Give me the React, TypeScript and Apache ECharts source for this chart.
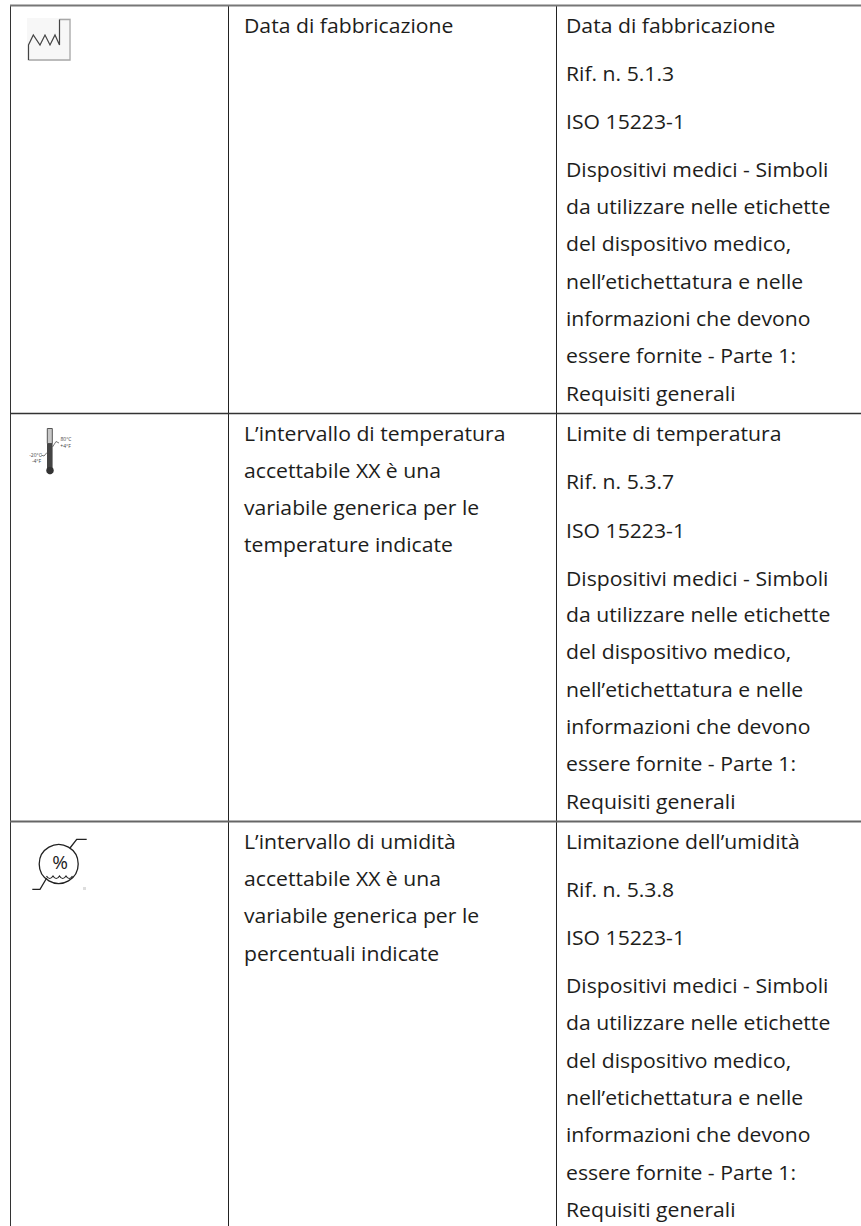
import React, { useEffect, useRef } from "react";
import * as echarts from "echarts";

const col2Row1 = ["Data di fabbricazione"];
const col2Row2 = ["L’intervallo di temperatura", "accettabile XX è una", "variabile generica per le", "temperature indicate"];
const col2Row3 = ["L’intervallo di umidità", "accettabile XX è una", "variabile generica per le", "percentuali indicate"];
const standardText = ["ISO 15223-1", "Dispositivi medici - Simboli", "da utilizzare nelle etichette", "del dispositivo medico,", "nell’etichettatura e nelle", "informazioni che devono", "essere fornite - Parte 1:", "Requisiti generali"];
const col3Row1 = ["Data di fabbricazione", "Rif. n. 5.1.3", ...standardText];
const col3Row2 = ["Limite di temperatura", "Rif. n. 5.3.7", ...standardText];
const col3Row3 = ["Limitazione dell’umidità", "Rif. n. 5.3.8", ...standardText];
const col2Base1 = [33];
const col2Base2 = [441, 478, 515, 552];
const col2Base3 = [849, 886, 923, 961];
const col3Base1 = [33, 81, 129, 177, 214, 251, 289, 326, 363, 401];
const col3Base2 = [441, 489, 538, 586, 622, 659, 697, 734, 771, 809];
const col3Base3 = [849, 897, 945, 993, 1030, 1068, 1105, 1142, 1180, 1217];
const thermoRight = ["80°C", "+4°F"];
const thermoLeft = ["-20°C", "-4°F"];

const FONT = "'Open Sans'";
const SIZE = 20;
const SX = 1.06;

function textEls(lines: string[], bases: number[], x: number) {
  return lines.map((t, i) => ({
    type: "text", x, y: bases[i] - 0.388 * SIZE, scaleX: SX,
    style: { text: t, fontFamily: FONT, fontSize: SIZE, fill: "#1d1d1b", verticalAlign: "middle", textAlign: "left" },
  }));
}
const ln = (x1: number, y1: number, x2: number, y2: number, stroke: string, lineWidth: number) => ({
  type: "line", shape: { x1, y1, x2, y2 }, style: { stroke, lineWidth },
});
const poly = (points: number[][], stroke: string, lineWidth: number) => ({
  type: "polyline", shape: { points }, style: { stroke, lineWidth, fill: "none" },
});
const tiny = (t: string, x: number, y: number) => ({
  type: "text", x, y,
  style: { text: t, fontFamily: FONT, fontSize: 5, fill: "#444", align: "center", verticalAlign: "middle" },
});

export default function App() {
  const ref = useRef<HTMLDivElement>(null);
  useEffect(() => {
    echarts.graphic.registerShape(
      "waveLine",
      echarts.graphic.extendPath("M46.5 876 q3.2 5 6.5 0 q3.2 5 6.5 0 q3.2 5 6.5 0 q3.2 5 6.5 0", {})
    );
    const chart = echarts.init(ref.current!, null, { renderer: "svg" });
    const elements: any[] = [
      ln(10.5, 5, 10.5, 1226, "#333", 1),
      ln(228.5, 5, 228.5, 1226, "#222", 1),
      ln(556.5, 5, 556.5, 1226, "#222", 1),
      ln(10, 5.5, 861, 5.5, "#777", 2),
      ln(10, 413.5, 861, 413.5, "#333", 1.5),
      ln(10, 821.5, 861, 821.5, "#666", 2),
      ...textEls(col2Row1, col2Base1, 244),
      ...textEls(col2Row2, col2Base2, 244),
      ...textEls(col2Row3, col2Base3, 244),
      ...textEls(col3Row1, col3Base1, 566),
      ...textEls(col3Row2, col3Base2, 566),
      ...textEls(col3Row3, col3Base3, 566),
      // factory icon
      { type: "rect", shape: { x: 27, y: 18, width: 44, height: 43 }, style: { fill: "#f7f7f7" } },
      poly([[59.5, 19.5], [70, 19.5], [70, 60], [28.5, 60]], "#a8a8a8", 1.3),
      poly([[28.5, 60], [28.5, 45], [33.3, 35], [40, 45], [45, 35], [50, 45], [55, 35], [59.5, 45], [59.5, 19.5]], "#444", 1.2),
      // thermometer icon
      { type: "rect", shape: { x: 47.3, y: 428.5, width: 5, height: 15 }, style: { fill: "#c8c8c8", stroke: "#555", lineWidth: 1 } },
      { type: "rect", shape: { x: 47, y: 443.5, width: 5.6, height: 26 }, style: { fill: "#444" } },
      { type: "circle", shape: { cx: 50, cy: 470.5, r: 3.8 }, style: { fill: "#333" } },
      poly([[52.5, 447], [56, 441.5], [59, 443]], "#555", 0.8),
      poly([[47, 452.5], [44, 456], [41, 455]], "#555", 0.8),
      tiny(thermoRight[0], 66, 439),
      tiny(thermoRight[1], 65.5, 445.5),
      tiny(thermoLeft[0], 35.5, 454.5),
      tiny(thermoLeft[1], 36.5, 460.5),
      // humidity icon
      { type: "circle", shape: { cx: 58.7, cy: 864, r: 19.5 }, style: { fill: "none", stroke: "#222", lineWidth: 1.3 } },
      poly([[70, 848], [76.7, 839.3], [86.7, 839.3]], "#222", 1.3),
      poly([[46.7, 878], [40, 889.3], [32.3, 889.3]], "#222", 1.3),
      { type: "waveLine", style: { fill: "none", stroke: "#222", lineWidth: 1.2 } },
      { type: "text", x: 60, y: 862, style: { text: "%", fontFamily: FONT, fontSize: 19, fill: "#222", align: "center", verticalAlign: "middle" } },
      { type: "rect", shape: { x: 83, y: 887, width: 3, height: 3 }, style: { fill: "#ddd" } },
    ];
    chart.setOption({ animation: false, graphic: { elements } });
    return () => chart.dispose();
  }, []);
  return <div ref={ref} style={{ position: "absolute", left: 0, top: 0, width: 861, height: 1226, background: "#fff" }} />;
}
